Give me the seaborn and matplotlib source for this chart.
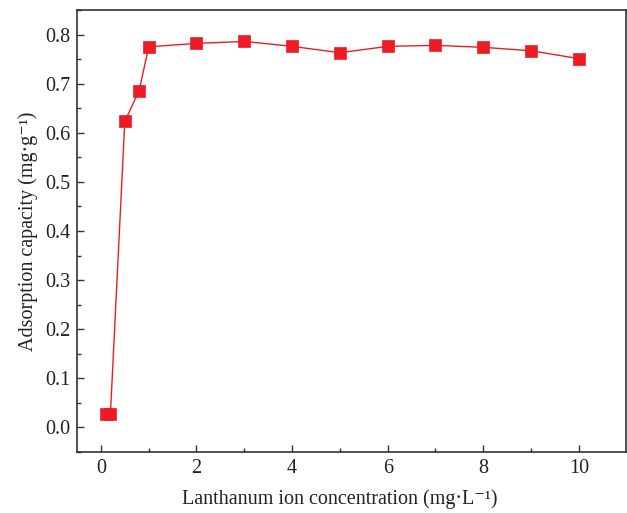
import pandas as pd
import matplotlib
matplotlib.use('Agg')
import matplotlib.pyplot as plt
import seaborn as sns
import matplotlib.ticker as mticker

# Values
concentration = [0.1, 0.2, 0.5, 0.8, 1, 2, 3, 4, 5, 6, 7, 8, 9, 10]
capacity = [0.027, 0.028, 0.623, 0.686, 0.775, 0.782, 0.786, 0.776, 0.763,
            0.776, 0.778, 0.774, 0.767, 0.751]

df = pd.DataFrame({'conc': concentration, 'cap': capacity})

sns.set_style("white")
plt.rcParams['font.family'] = ['Liberation Serif', 'DejaVu Serif']

fig = plt.figure(figsize=(6.27, 5.13), dpi=100)
ax = fig.add_axes([0.1228, 0.1189, 0.998 - 0.1228, 0.9805 - 0.1189])

sns.lineplot(data=df, x='conc', y='cap', ax=ax, color='#ED1C24', linewidth=1.0,
             marker='s', markersize=8.5, markeredgecolor='#ED1C24',
             markeredgewidth=0.5)

ax.set_xlim(-0.5, 10.98)
ax.set_ylim(-0.05, 0.85)
ax.xaxis.set_major_locator(mticker.MultipleLocator(2))
ax.xaxis.set_minor_locator(mticker.MultipleLocator(1))
ax.yaxis.set_major_locator(mticker.MultipleLocator(0.1))
ax.yaxis.set_minor_locator(mticker.MultipleLocator(0.05))
ax.xaxis.set_major_formatter(mticker.FuncFormatter(lambda v, _: f'{v:.0f}'))
ax.yaxis.set_major_formatter(mticker.FuncFormatter(lambda v, _: f'{v:.1f}'))

ax.tick_params(axis='both', which='major', direction='in', length=5, width=1,
               labelsize=14.5, color='#333333', labelcolor='#222222',
               top=False, right=False, bottom=True, left=True, pad=5)
ax.tick_params(axis='both', which='minor', direction='in', length=3, width=1,
               color='#333333', top=False, right=False, bottom=True, left=True)

for side in ['left', 'bottom', 'top', 'right']:
    ax.spines[side].set_visible(True)
    ax.spines[side].set_color('#333333')
    ax.spines[side].set_linewidth(1.2)

ax.set_xlabel('Lanthanum ion concentration (mg·L\u207b\u00b9)', fontsize=14.5,
              color='#222222')
ax.set_ylabel('Adsorption capacity (mg·g\u207b\u00b9)', fontsize=14.5,
              color='#222222', labelpad=5)
# the original label sits a bit left of the axes centre
ax.xaxis.set_label_coords(0.479, -0.085)

fig.savefig('out.png', dpi=100)
